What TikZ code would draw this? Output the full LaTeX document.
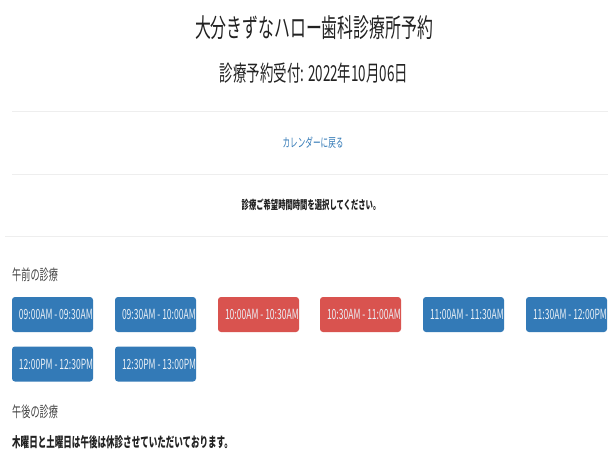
\documentclass[tikz,border=0pt]{standalone}
\usepackage{fontspec}
\setmainfont{Noto Sans CJK JP}[FakeStretch=0.61]
\definecolor{btnblue}{HTML}{337AB7}
\definecolor{btnred}{HTML}{D9534F}
\definecolor{rulegray}{HTML}{EEEEEE}
\definecolor{txtdark}{HTML}{222222}
\definecolor{txtgray}{HTML}{444444}
\definecolor{linkblue}{HTML}{337AB7}
\definecolor{btntext}{HTML}{EAF0F6}
\tikzset{
  txt/.style={inner sep=0pt, text=txtdark},
  slotbox/.style={draw=none, rounded corners=3pt, minimum width=81pt, minimum height=35pt, inner sep=0pt},
  freeslot/.style={slotbox, fill=btnblue},
  takenslot/.style={slotbox, fill=btnred},
  slottext/.style={inner sep=0pt, anchor=west, text=btntext, font=\fontsize{14}{14}\selectfont},
  sep/.style={draw=rulegray, line width=1pt}
}
\begin{document}
\begin{tikzpicture}[x=1pt, y=-1pt]
\useasboundingbox (0,0) rectangle (608,458);
\fill[white] (0,0) rectangle (608,458);

\node[txt, font=\fontsize{26}{26}\selectfont] (title) at (314,28) {大分きずなハロー歯科診療所予約};
\node[txt, font=\fontsize{22}{22}\selectfont] (sub) at (314,73) {診療予約受付: 2022年10月06日};

\coordinate (l1a) at (12,111); \coordinate (l1b) at (608,111);
\draw[sep] (l1a) -- (l1b);
\node[txt, text=linkblue, font=\fontsize{12.5}{12.5}\selectfont] (back) at (313,143) {カレンダーに戻る};
\coordinate (l2a) at (12,174); \coordinate (l2b) at (608,174);
\draw[sep] (l2a) -- (l2b);
\node[txt, font=\fontsize{12}{12}\bfseries\selectfont] (choose) at (311,205) {診療ご希望時間時間を選択してください。};
\coordinate (l3a) at (5,236); \coordinate (l3b) at (608,236);
\draw[sep] (l3a) -- (l3b);

\node[txt, text=txtgray, anchor=west, font=\fontsize{15}{15}\selectfont] (am) at (12,275) {午前の診療};

\node[freeslot]  (s1) at (52.5,314.5) {};
\node[freeslot]  (s2) at (155.5,314.5) {};
\node[takenslot] (s3) at (258.5,314.5) {};
\node[takenslot] (s4) at (360.5,314.5) {};
\node[freeslot]  (s5) at (463.5,314.5) {};
\node[freeslot]  (s6) at (566.5,314.5) {};
\node[freeslot]  (s7) at (52.5,364) {};
\node[freeslot]  (s8) at (155.5,364) {};

\node[slottext] (t1) at ([xshift=7pt]s1.west) {09:00AM - 09:30AM};
\node[slottext] (t2) at ([xshift=7pt]s2.west) {09:30AM - 10:00AM};
\node[slottext] (t3) at ([xshift=7pt]s3.west) {10:00AM - 10:30AM};
\node[slottext] (t4) at ([xshift=7pt]s4.west) {10:30AM - 11:00AM};
\node[slottext] (t5) at ([xshift=7pt]s5.west) {11:00AM - 11:30AM};
\node[slottext] (t6) at ([xshift=7pt]s6.west) {11:30AM - 12:00PM};
\node[slottext] (t7) at ([xshift=7pt]s7.west) {12:00PM - 12:30PM};
\node[slottext] (t8) at ([xshift=7pt]s8.west) {12:30PM - 13:00PM};

\node[txt, text=txtgray, anchor=west, font=\fontsize{15}{15}\selectfont] (pm) at (12,412) {午後の診療};
\node[txt, anchor=west, font=\fontsize{14}{14}\bfseries\selectfont] (closed) at (12,442) {木曜日と土曜日は午後は休診させていただいております。};
\end{tikzpicture}
\end{document}
